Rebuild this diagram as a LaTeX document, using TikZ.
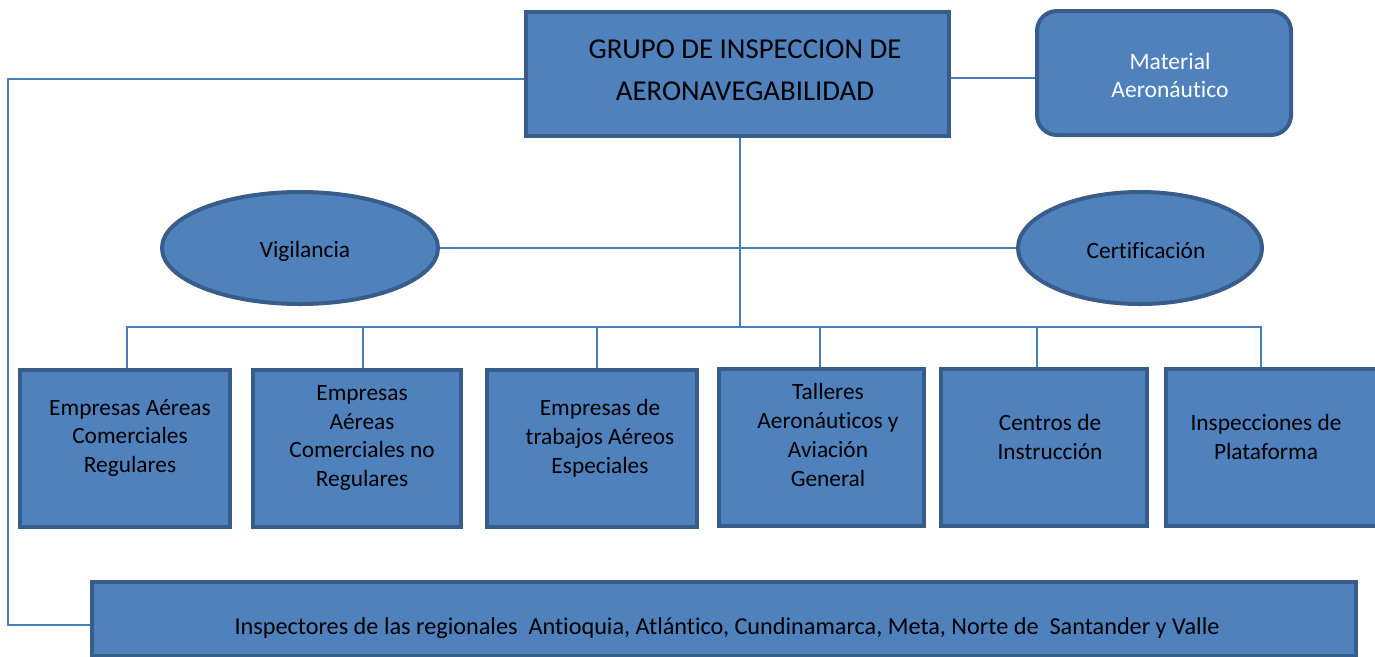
\documentclass[tikz,border=0pt]{standalone}
\usepackage{fontspec}
\setmainfont{Carlito}[Ligatures={NoCommon}]
\usetikzlibrary{shapes.geometric}
\definecolor{boxfill}{HTML}{4F81BD}
\definecolor{boxline}{HTML}{385D8A}
\definecolor{conn}{HTML}{4A7EBB}
\tikzset{
  sz/.style 2 args={minimum width=#1*0.02cm, minimum height=#2*0.02cm},
  orgbox/.style={draw=boxline, fill=boxfill, line width=0.08cm, inner sep=0pt, rectangle},
  roundbox/.style={orgbox, rounded corners=0.4cm},
  oval/.style={draw=boxline, fill=boxfill, line width=0.08cm, inner sep=0pt, ellipse},
  txt/.style={align=center, inner sep=0pt, font=\fontsize{13.3}{16.4}\selectfont},
  bigtxt/.style={align=center, inner sep=0pt, font=\fontsize{13.8}{16.4}\selectfont},
  toptxt/.style={align=center, inner sep=0pt, font=\fontsize{16.4}{24}\selectfont},
  wtxt/.style={txt, text=white, font=\fontsize{13.4}{16}\selectfont},
  conn/.style={draw=conn, line width=1.1pt},
}
\begin{document}
\begin{tikzpicture}[x=0.02cm, y=-0.02cm]
\clip (0,0) rectangle (1375,656);
\fill[white] (0,0) rectangle (1375,656);
% nodes
\node[orgbox, sz={423}{124}] (top) at (737.5,74) {};
\node[toptxt] (toptext) at (745,70) {GRUPO DE INSPECCION DE\\AERONAVEGABILIDAD};
\node[roundbox, sz={254}{124}] (mat) at (1164,73) {};
\node[wtxt] (mattext) at (1170,75) {Material\\Aeronáutico};
\node[oval, sz={276}{112}] (vig) at (300,248) {};
\node[txt] (vigtext) at (305,251) {Vigilancia};
\node[oval, sz={244}{112}] (cert) at (1140,248) {};
\node[txt] (certtext) at (1146,251) {Certificación};

\node[orgbox, sz={210}{157}] (b1) at (125,448.5) {};
\node[orgbox, sz={208}{157}] (b2) at (357,448.5) {};
\node[orgbox, sz={210}{157}] (b3) at (592,448.5) {};
\node[orgbox, sz={205}{157}] (b4) at (821.5,447.5) {};
\node[orgbox, sz={206}{157}] (b5) at (1044,447.5) {};
\node[orgbox, sz={212}{157}] (b6) at (1272,447.5) {};
\node[txt] (t1) at (130,438) {Empresas Aéreas\\Comerciales\\Regulares};
\node[txt] (t2) at (362,438) {Empresas\\Aéreas\\Comerciales no\\Regulares};
\node[txt] (t3) at (600,438) {Empresas de\\trabajos Aéreos\\Especiales};
\node[txt] (t4) at (828,435) {Talleres\\Aeronáuticos y\\Aviación\\General};
\node[txt] (t5) at (1050,437) {Centros de\\Instrucción};
\node[txt] (t6) at (1266,437) {Inspecciones de\\Plataforma};

\node[orgbox, sz={1264}{74}] (bot) at (724,619) {};
\node[bigtxt] (bottext) at (727,628) {Inspectores de las regionales\ \ Antioquia, Atlántico, Cundinamarca, Meta, Norte de\ \ Santander y Valle};

% connectors
\coordinate (hub) at (740,327);
\coordinate (lt) at (8,79);
\coordinate (lb) at (8,625);
\draw[conn] ([yshift=-4*0.02cm]top.east) -- ([yshift=-4*0.02cm]top.east -| mat.west);
\draw[conn] (top.west |- lt) -- (lt) -- (lb) -- (lb -| bot.west);
\draw[conn] (top.south -| hub) -- (hub);
\draw[conn] (vig.east) -- (cert.west);
\draw[conn] ([xshift=2*0.02cm]b1.north) |- (hub);
\draw[conn] ([xshift=6*0.02cm]b2.north) |- (hub);
\draw[conn] ([xshift=5*0.02cm]b3.north) |- (hub);
\draw[conn] ([xshift=-1.5*0.02cm]b4.north) |- (hub);
\draw[conn] ([xshift=-7*0.02cm]b5.north) |- (hub);
\draw[conn] ([xshift=-11*0.02cm]b6.north) |- (hub);
\end{tikzpicture}
\end{document}
